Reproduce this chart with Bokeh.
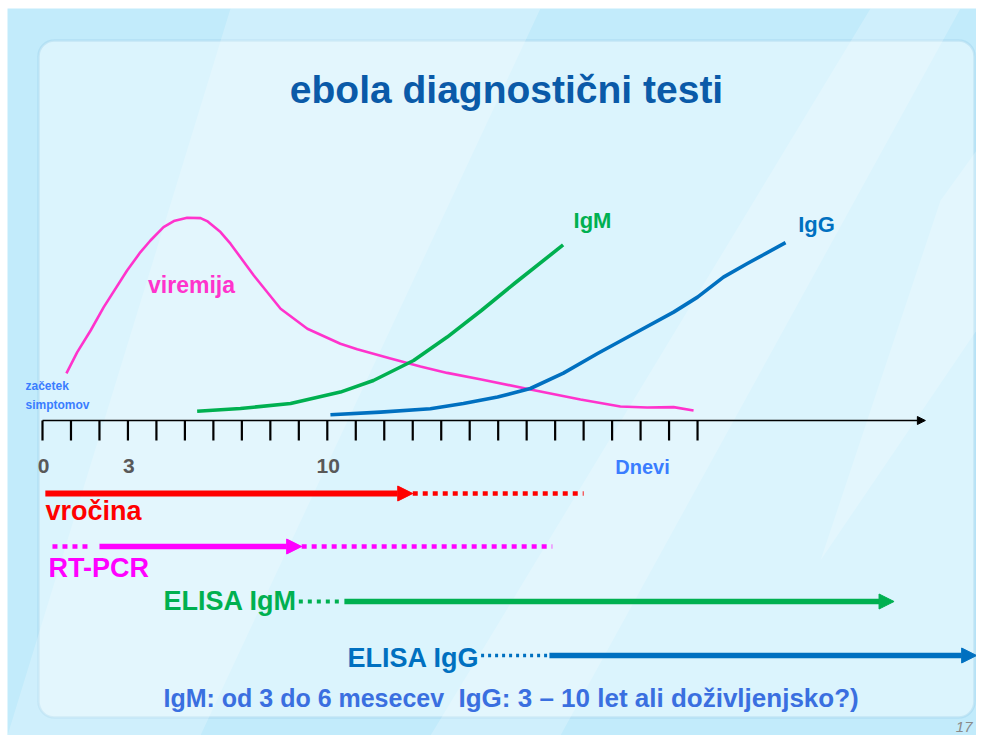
from bokeh.plotting import figure
from bokeh.models import Range1d, Arrow, NormalHead, Label, BoxAnnotation
from bokeh.embed import file_html
from bokeh.resources import INLINE

# ---------------- data (days since symptom onset, relative level) ----------------
viremia_days = [0.84, 1.22, 1.69, 2.15, 2.97, 3.44, 3.79, 4.25, 4.61, 5.08, 5.55, 5.78,
                6.25, 6.60, 7.42, 8.36, 9.30, 10.46, 11.05, 12.22, 13.27, 14.21,
                15.41, 17.13, 18.89, 20.29, 21.23, 22.16, 22.86]
viremia_level = [23.6, 34.2, 45.0, 56.7, 75.0, 84.2, 90.0, 96.7, 99.7, 101.4, 101.2, 99.7,
                 94.2, 88.4, 72.5, 55.9, 45.9, 38.4, 35.6, 31.0, 27.0, 23.8,
                 20.5, 15.5, 10.5, 7.0, 6.5, 6.7, 5.0]

igm_days = [5.43, 6.95, 8.71, 10.46, 11.62, 13.03, 14.21, 15.41, 16.57, 18.28]
igm_level = [4.6, 6.0, 8.5, 14.2, 20.0, 30.0, 41.7, 55.0, 68.5, 87.8]

igg_days = [10.11, 11.87, 13.62, 14.78, 15.98, 17.13, 18.29, 19.49, 20.65, 22.16,
            23.00, 23.91, 24.75, 26.09]
igg_level = [2.9, 4.2, 5.9, 8.5, 11.7, 16.0, 23.7, 33.5, 42.5, 54.2, 61.7, 71.7, 78.5, 88.9]

tick_days = list(range(24))
tick_label_days = [0, 3, 10]
tick_labels = ["0", "3", "10"]
axis_end_day = 31.0

# test detection windows (days): dotted = uncertain, solid = detectable
fever_solid = (0.1, 13.0)
fever_dotted = (13.0, 19.0)
pcr_dotted_pre = (0.35, 1.75)
pcr_solid = (2.0, 9.1)
pcr_dotted = (9.1, 17.9)
elisa_igm_dotted = (9.0, 10.5)
elisa_igm_solid = (10.6, 29.9)
elisa_igg_dotted = (15.4, 18.4)
elisa_igg_solid = (17.8, 32.8)

# ---------------- layout helpers (canvas pixels -> chart units) ----------------
W, H = 976, 735
X0_PX, PX_PER_DAY = 42.0, 28.48
Y0_PX, PX_PER_LVL = 420.0, 2.0


def dx(px):
    return (px - X0_PX) / PX_PER_DAY


def ly(py):
    return (Y0_PX - py) / PX_PER_LVL


FONT = "Liberation Sans"
RED, MAG, PINK = "#ff0000", "#ff00ff", "#ff33cc"
GREEN, BLUE = "#00b050", "#0070c0"

p = figure(width=W, height=H, output_backend="svg", toolbar_location=None,
           x_range=Range1d(dx(0), dx(W)), y_range=Range1d(ly(H), ly(0)),
           min_border=0, background_fill_color="white", border_fill_color="white")
p.axis.visible = False
p.grid.visible = False
p.outline_line_color = None

# slide background
p.add_layout(BoxAnnotation(left=dx(7), right=dx(W + 20), top=ly(8), bottom=ly(H + 20),
                           fill_color="#c2ebfb", fill_alpha=1.0, line_color=None,
                           level="underlay"))

# background diagonal streaks
streaks = [
    [(230, 8), (540, 8), (200, 735), (-60, 735)],
    [(870, 8), (960, 8), (560, 735), (430, 735)],
    [(940, 200), (976, 150), (976, 330), (820, 560)],
]
for poly in streaks:
    p.patch([dx(max(a, 7)) for a, b in poly], [ly(b) for a, b in poly],
            fill_color="white", fill_alpha=0.22, line_color=None)

# rounded panel
p.add_layout(BoxAnnotation(left=dx(38), right=dx(974), top=ly(40), bottom=ly(717),
                           fill_color="#e4f6fd", fill_alpha=0.72,
                           line_color="#8fc6e3", line_width=2.5, border_radius=16,
                           level="underlay"))

# curves
p.line(viremia_days, viremia_level, line_color=PINK, line_width=2.6, line_join="round")
p.line(igm_days, igm_level, line_color=GREEN, line_width=3.6, line_join="round")
p.line(igg_days, igg_level, line_color=BLUE, line_width=3.6, line_join="round")

# day axis
p.add_layout(Arrow(x_start=0, y_start=0, x_end=axis_end_day, y_end=0,
                   line_color="black", line_width=1.5,
                   end=NormalHead(size=8, fill_color="black", line_color="black")))
p.segment(x0=tick_days, y0=[0] * len(tick_days), x1=tick_days,
          y1=[ly(440)] * len(tick_days), line_color="black", line_width=2.2)
for d, t in zip(tick_label_days, tick_labels):
    p.add_layout(Label(x=d, y=ly(465), text=t, text_font=FONT, text_font_size="21px",
                       text_font_style="bold", text_color="#595959",
                       text_align="center", text_baseline="middle", x_offset=1))
p.add_layout(Label(x=dx(642), y=ly(466), text="Dnevi", text_font=FONT,
                   text_font_size="20px", text_font_style="bold", text_color="#3a7dff",
                   text_align="center", text_baseline="middle"))


def dotted(rng, lvl, color, width=4.5, dash="5 5"):
    p.line([rng[0], rng[1]], [lvl, lvl], line_color=color, line_width=width,
           line_dash=dash, line_cap="butt")


def solid_arrow(rng, lvl, color, width=5.5, head=15):
    p.add_layout(Arrow(x_start=rng[0], y_start=lvl, x_end=rng[1], y_end=lvl,
                       line_color=color, line_width=width,
                       end=NormalHead(size=head, fill_color=color, line_color=color)))


# test lanes
L_FEV, L_PCR, L_IGM, L_IGG = ly(493), ly(546), ly(601), ly(655)
dotted(fever_dotted, L_FEV, RED)
solid_arrow(fever_solid, L_FEV, RED, width=6)
dotted(pcr_dotted_pre, L_PCR, MAG)
dotted(pcr_dotted, L_PCR, MAG)
solid_arrow(pcr_solid, L_PCR, MAG)
dotted(elisa_igm_dotted, L_IGM, GREEN, width=4, dash="4 5")
solid_arrow(elisa_igm_solid, L_IGM, GREEN)
dotted(elisa_igg_dotted, L_IGG, BLUE, width=3.5, dash="3 4")
solid_arrow(elisa_igg_solid, L_IGG, BLUE)


def label(px, py, text, color, size, align="left", style="bold"):
    p.add_layout(Label(x=dx(px), y=ly(py), text=text, text_font=FONT,
                       text_font_size=size, text_font_style=style, text_color=color,
                       text_align=align, text_baseline="middle"))


label(506, 89, "ebola diagnostični testi", "#0a5aa8", "39px", align="center")
label(191, 284, "viremija", PINK, "23px", align="center")
label(592, 220, "IgM", GREEN, "22px", align="center")
label(816, 224, "IgG", BLUE, "22px", align="center")
label(25, 385, "začetek", "#3a7dff", "12px")
label(25, 404, "simptomov", "#3a7dff", "12px")
label(45, 510, "vročina", RED, "27px")
label(48, 567, "RT-PCR", MAG, "27px")
label(163, 600, "ELISA IgM", GREEN, "27px")
label(347, 657, "ELISA IgG", BLUE, "27px")
label(163, 697, "IgM: od 3 do 6 mesecev", "#3a6fe0", "25px")
label(458, 697, "IgG: 3 – 10 let ali doživljenjsko?)", "#3a6fe0", "26px")
label(972, 726, "17", "#8a8a8a", "15px", align="right", style="italic")

open("out.html", "w").write(file_html(p, INLINE))
